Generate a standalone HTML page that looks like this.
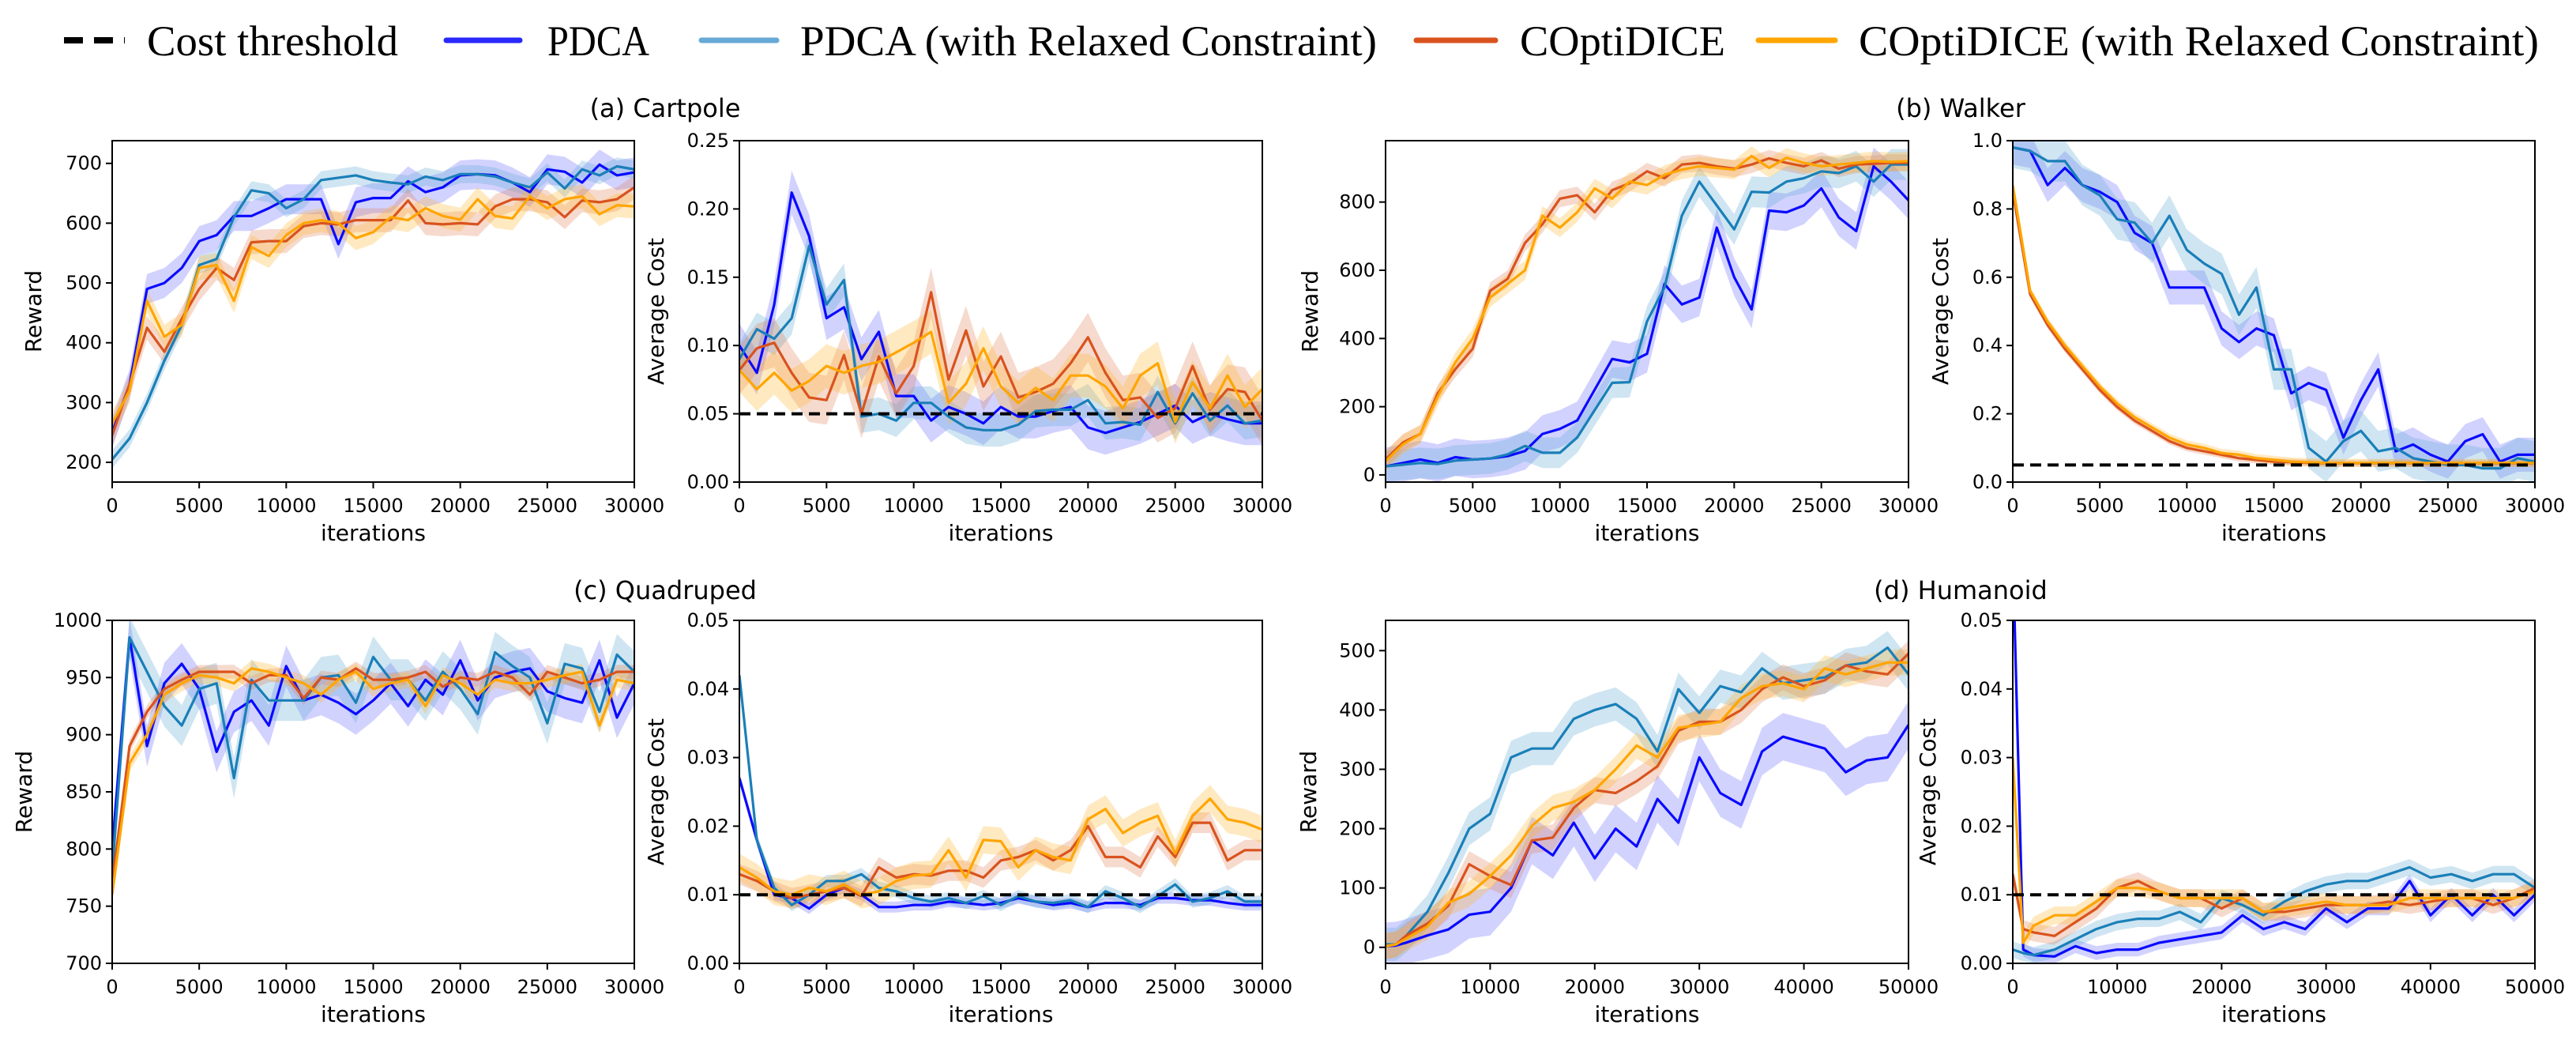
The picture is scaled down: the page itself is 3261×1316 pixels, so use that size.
<!DOCTYPE html>
<html><head><meta charset="utf-8"><style>
html,body{margin:0;padding:0;background:#fff;}
svg{display:block;}
text{font-family:"DejaVu Sans","Liberation Sans",sans-serif;fill:#000;}
.leg{font-family:"Liberation Serif",serif;font-size:54px;}
</style></head><body>
<svg id="fig" width="3261" height="1316" viewBox="0 0 3261 1316" xmlns="http://www.w3.org/2000/svg">
<g>
  <line x1="81" y1="51" x2="158" y2="51" stroke="#000" stroke-width="8" stroke-dasharray="24,14"/>
  <text class="leg" x="186" y="70" textLength="318" lengthAdjust="spacingAndGlyphs">Cost threshold</text>
  <line x1="565" y1="51" x2="658" y2="51" stroke="#2828ff" stroke-width="7" stroke-linecap="round"/>
  <text class="leg" x="693" y="70" textLength="129" lengthAdjust="spacingAndGlyphs">PDCA</text>
  <line x1="888" y1="51" x2="983" y2="51" stroke="#67a9d6" stroke-width="7" stroke-linecap="round"/>
  <text class="leg" x="1013" y="70" textLength="730" lengthAdjust="spacingAndGlyphs">PDCA (with Relaxed Constraint)</text>
  <line x1="1793" y1="51" x2="1893" y2="51" stroke="#d9531e" stroke-width="7" stroke-linecap="round"/>
  <text class="leg" x="1924" y="70" textLength="260" lengthAdjust="spacingAndGlyphs">COptiDICE</text>
  <line x1="2226" y1="51" x2="2323" y2="51" stroke="#ffa500" stroke-width="7" stroke-linecap="round"/>
  <text class="leg" x="2353" y="70" textLength="861" lengthAdjust="spacingAndGlyphs">COptiDICE (with Relaxed Constraint)</text>
</g>
</svg>
<script>
// ---------- data ----------
const x30 = [0,1000,2000,3000,4000,5000,6000,7000,8000,9000,10000,11000,12000,13000,14000,15000,16000,17000,18000,19000,20000,21000,22000,23000,24000,25000,26000,27000,28000,29000,30000];
const x50 = [0,1000,2000,4000,6000,8000,10000,12000,14000,16000,18000,20000,22000,24000,26000,28000,30000,32000,34000,36000,38000,40000,42000,44000,46000,48000,50000];
const seriesNames = ["pdca","pdca-relaxed","coptidice","coptidice-relaxed"];

const aRewardPDCA = [250,330,490,500,525,570,580,612,612,625,640,640,640,565,635,642,642,670,652,660,680,682,680,668,652,690,686,668,698,680,685];
const aRewardPDCAR = [205,240,300,370,430,530,540,610,655,650,625,640,672,676,680,672,668,665,678,672,682,682,678,668,660,685,658,690,680,695,690];
const aRewardCO = [245,330,425,385,440,490,525,505,568,570,570,595,600,598,605,605,605,638,600,598,600,598,628,640,640,635,610,638,635,640,660];
const aRewardCOR = [265,320,470,410,430,525,530,470,560,545,580,600,605,600,575,585,610,605,625,612,606,640,612,608,645,625,640,645,615,630,628];
const aRewardBand = [25,15,20,20];

const aCostPDCA = [0.100,0.080,0.130,0.212,0.180,0.120,0.128,0.090,0.110,0.063,0.063,0.045,0.055,0.050,0.043,0.055,0.048,0.048,0.052,0.055,0.040,0.036,0.040,0.044,0.050,0.056,0.044,0.050,0.046,0.043,0.043];
const aCostPDCAR = [0.090,0.112,0.105,0.120,0.173,0.130,0.148,0.048,0.050,0.045,0.058,0.058,0.048,0.040,0.038,0.038,0.042,0.052,0.053,0.053,0.060,0.043,0.044,0.042,0.066,0.043,0.065,0.045,0.056,0.043,0.045];
const aCostCO = [0.082,0.098,0.102,0.080,0.062,0.060,0.093,0.050,0.092,0.065,0.085,0.139,0.075,0.111,0.070,0.092,0.062,0.066,0.072,0.087,0.106,0.080,0.060,0.062,0.047,0.054,0.085,0.053,0.068,0.066,0.045];
const aCostCOR = [0.082,0.068,0.080,0.067,0.074,0.085,0.080,0.085,0.088,0.095,0.102,0.110,0.058,0.072,0.098,0.070,0.058,0.069,0.060,0.078,0.078,0.070,0.054,0.078,0.087,0.044,0.073,0.054,0.078,0.055,0.068];
const aCostBand = [0.016,0.012,0.018,0.016];

const bRewardPDCA = [25,35,45,35,52,45,48,55,70,120,135,160,250,340,330,355,560,500,520,725,580,485,775,770,790,840,755,715,905,860,805];
const bRewardPDCAR = [25,30,35,32,42,45,48,60,85,65,65,110,190,270,272,450,550,760,860,790,720,830,828,860,870,890,885,905,860,910,910];
const bRewardCO = [45,95,120,240,310,370,540,575,680,735,810,820,770,835,855,890,870,910,915,905,898,910,928,915,905,922,898,910,912,915,915];
const bRewardCOR = [40,90,120,230,330,400,520,560,600,760,725,770,840,810,860,850,880,895,905,900,895,935,900,930,915,905,910,915,920,918,920];
const bRewardBand = [55,45,25,28];

const bCostPDCA = [0.98,0.97,0.87,0.92,0.87,0.85,0.82,0.73,0.70,0.57,0.57,0.57,0.45,0.41,0.45,0.43,0.26,0.29,0.27,0.13,0.24,0.33,0.09,0.11,0.08,0.06,0.12,0.14,0.06,0.08,0.08];
const bCostPDCAR = [0.98,0.97,0.94,0.94,0.87,0.84,0.77,0.76,0.70,0.78,0.68,0.64,0.61,0.49,0.57,0.33,0.33,0.10,0.06,0.12,0.15,0.09,0.10,0.07,0.06,0.05,0.05,0.04,0.04,0.07,0.06];
const bCostCO = [0.85,0.55,0.46,0.39,0.33,0.27,0.22,0.18,0.15,0.12,0.10,0.09,0.08,0.07,0.065,0.06,0.058,0.056,0.055,0.055,0.055,0.055,0.055,0.055,0.055,0.055,0.055,0.055,0.055,0.055,0.055];
const bCostCOR = [0.87,0.56,0.47,0.40,0.34,0.28,0.23,0.19,0.16,0.13,0.11,0.10,0.085,0.08,0.07,0.065,0.06,0.058,0.056,0.056,0.056,0.056,0.056,0.056,0.056,0.056,0.056,0.056,0.056,0.056,0.056];
const bCostBand = [0.05,0.06,0.01,0.012];

const cRewardPDCA = [800,985,890,945,962,940,885,920,930,908,960,930,935,928,918,930,945,925,948,935,965,930,950,955,958,938,932,928,965,915,945];
const cRewardPDCAR = [780,985,955,925,908,940,945,862,948,930,930,930,950,952,928,968,948,948,930,955,940,918,972,960,950,910,962,958,920,970,955];
const cRewardCO = [770,890,920,940,948,955,955,955,945,952,952,932,950,948,958,948,948,950,955,942,950,948,955,950,935,955,950,945,948,955,955];
const cRewardCOR = [760,875,900,935,945,952,950,945,958,955,950,945,935,948,955,940,945,948,925,952,945,935,948,945,945,948,952,955,908,948,945];
const cRewardBand = [18,18,6,7];

const cCostPDCA = [0.027,0.018,0.010,0.0095,0.008,0.010,0.011,0.010,0.0082,0.0082,0.0085,0.0085,0.009,0.0088,0.0085,0.0088,0.0095,0.009,0.0085,0.0088,0.0082,0.0088,0.0088,0.0085,0.0095,0.0095,0.0092,0.0092,0.0088,0.0085,0.0085];
const cCostPDCAR = [0.042,0.018,0.011,0.0085,0.010,0.012,0.012,0.013,0.011,0.0105,0.0095,0.009,0.0095,0.0088,0.0098,0.0085,0.0098,0.009,0.0088,0.0092,0.0082,0.0105,0.0095,0.0082,0.0098,0.0115,0.009,0.0095,0.0105,0.009,0.009];
const cCostCO = [0.013,0.012,0.0105,0.0095,0.010,0.0105,0.011,0.0098,0.014,0.0125,0.013,0.0128,0.0135,0.0135,0.0125,0.015,0.0155,0.0165,0.015,0.0165,0.020,0.0155,0.0155,0.014,0.0185,0.0155,0.0205,0.0205,0.015,0.0165,0.0165];
const cCostCOR = [0.014,0.0125,0.0105,0.010,0.011,0.0105,0.0115,0.010,0.0105,0.012,0.0128,0.013,0.0165,0.0125,0.018,0.0178,0.014,0.0165,0.0155,0.015,0.021,0.0225,0.019,0.0205,0.0215,0.016,0.0215,0.024,0.021,0.0205,0.0195];
const cCostBand = [0.0008,0.0009,0.0015,0.002];

const dRewardPDCA = [2,3,8,20,30,55,60,100,180,155,210,150,200,170,250,210,320,260,240,330,355,345,335,295,315,320,375];
const dRewardPDCAR = [5,5,20,60,125,200,225,320,335,335,385,400,410,385,330,435,395,440,430,470,445,450,455,475,480,505,460];
const dRewardCO = [2,5,20,40,70,140,120,105,180,185,235,265,260,280,305,365,380,380,400,435,455,440,450,475,465,460,495];
const dRewardCOR = [2,5,15,35,75,90,120,155,205,235,245,265,300,340,320,370,375,380,420,440,445,435,470,460,470,480,480];
const dRewardBand = [40,28,22,22];

const dCostPDCA = [0.06,0.002,0.0012,0.001,0.0025,0.0015,0.002,0.002,0.003,0.0035,0.004,0.0045,0.007,0.005,0.006,0.005,0.008,0.006,0.008,0.008,0.012,0.007,0.010,0.007,0.010,0.007,0.010];
const dCostPDCAR = [0.002,0.0015,0.0012,0.002,0.0035,0.005,0.006,0.0065,0.0065,0.0075,0.006,0.0095,0.0085,0.007,0.009,0.0105,0.0115,0.012,0.012,0.013,0.014,0.0125,0.013,0.012,0.013,0.013,0.011];
const dCostCO = [0.013,0.005,0.0045,0.004,0.006,0.008,0.011,0.012,0.0105,0.0095,0.0095,0.008,0.0095,0.0075,0.0075,0.008,0.0085,0.0085,0.0085,0.009,0.0085,0.009,0.0095,0.0095,0.0085,0.0095,0.011];
const dCostCOR = [0.03,0.003,0.0055,0.007,0.007,0.009,0.011,0.011,0.0105,0.0095,0.0095,0.0095,0.0095,0.0075,0.008,0.0085,0.009,0.0085,0.0085,0.0085,0.0095,0.0095,0.0095,0.0095,0.0095,0.0095,0.0105];
const dCostBand = [0.001,0.0012,0.0013,0.0013];

const xTicks30 = [0,5000,10000,15000,20000,25000,30000];
const xTicks50 = [0,10000,20000,30000,40000,50000];
const aRewardTicks = [200,300,400,500,600,700];
const costTicks25 = [0,0.05,0.10,0.15,0.20,0.25];
const bRewardTicks = [0,200,400,600,800];
const bCostTicks = [0,0.2,0.4,0.6,0.8,1.0];
const cRewardTicks = [700,750,800,850,900,950,1000];
const smallCostTicks = [0,0.01,0.02,0.03,0.04,0.05];
const dRewardTicks = [0,100,200,300,400,500];

// ---------- drawing ----------
const NS = "http://www.w3.org/2000/svg";
const svg = document.getElementById("fig");
const lineColors = ["#0a0aff","#1a7fb8","#d9531e","#ffa500"];
const fillColors = ["#3030ff","#6baed6","#e07a50","#ffb733"];
const fillOpac = [0.22,0.32,0.28,0.3];

function mk(tag, attrs, parent){
  const e = document.createElementNS(NS, tag);
  for (const k in attrs) e.setAttribute(k, attrs[k]);
  (parent||svg).appendChild(e);
  return e;
}

function panel(o){
  const g = mk("g", {});
  
  
  const L=o.box[0], R=o.box[1], T=o.box[2], B=o.box[3];
  const sx = v => L + (v - o.xlim[0])/(o.xlim[1]-o.xlim[0])*(R-L);
  const sy = v => B - (v - o.ylim[0])/(o.ylim[1]-o.ylim[0])*(B-T);
  const clipId = "clip-" + o.name;
  const cp = mk("clipPath", {id: clipId}, g);
  mk("rect", {x:L, y:T, width:R-L, height:B-T}, cp);
  const plot = mk("g", {"clip-path": "url(#"+clipId+")"}, g);
  // bands
  o.series.forEach((ys, i) => {
    const bw = o.bands[i];
    let d = "";
    ys.forEach((v, j) => { d += (j ? "L" : "M") + sx(o.xs[j]).toFixed(1) + "," + sy(v + bw).toFixed(1); });
    for (let j = ys.length-1; j >= 0; j--) d += "L" + sx(o.xs[j]).toFixed(1) + "," + sy(Math.max(o.ylim[0]-1, ys[j] - bw)).toFixed(1);
    const p = mk("path", {d: d+"Z", fill: fillColors[i], "fill-opacity": fillOpac[i], stroke: "none"}, plot);
    
    
  });
  // lines
  o.series.forEach((ys, i) => {
    const pts = ys.map((v, j) => sx(o.xs[j]).toFixed(1) + "," + sy(v).toFixed(1)).join(" ");
    const p = mk("polyline", {points: pts, fill: "none", stroke: lineColors[i], "stroke-width": 3.2, "stroke-linejoin": "round"}, plot);
    
    
  });
  if (o.threshold !== undefined) {
    const t = mk("line", {x1: L, x2: R, y1: sy(o.threshold), y2: sy(o.threshold), stroke: "#000", "stroke-width": 4, "stroke-dasharray": "14,8"}, plot);
    
    
  }
  // frame
  const fr = mk("rect", {x: L, y: T, width: R-L, height: B-T, fill: "none", stroke: "#000", "stroke-width": 2}, g);
  
  
  // x ticks
  o.xticks.forEach(v => {
    const x = sx(v);
    mk("line", {x1: x, x2: x, y1: B, y2: B+8, stroke: "#000", "stroke-width": 2}, g);
    const t = mk("text", {x: x, y: B+38, "text-anchor": "middle", "font-size": 24}, g);
    t.textContent = String(v);
    
    
  });
  // y ticks
  o.yticks.forEach(v => {
    const y = sy(v);
    mk("line", {x1: L-8, x2: L, y1: y, y2: y, stroke: "#000", "stroke-width": 2}, g);
    const t = mk("text", {x: L-13, y: y+8, "text-anchor": "end", "font-size": 24}, g);
    t.textContent = o.fmt(v);
    
    
  });
  const xl = mk("text", {x: (L+R)/2, y: B+74, "text-anchor": "middle", "font-size": 28}, g);
  xl.textContent = "iterations";
  
  
  const yl = mk("text", {x: 0, y: 0, "text-anchor": "middle", "font-size": 28, transform: "translate(" + (o.ylabelX) + "," + ((T+B)/2) + ") rotate(-90)"}, g);
  yl.textContent = o.ylabel;
  
  
}

function title(txt, x, y, name){
  const t = mk("text", {x: x, y: y, "text-anchor": "middle", "font-size": 32});
  t.textContent = txt;
  
  
}

const f0 = v => String(v), f2 = v => v.toFixed(2), f1 = v => v.toFixed(1);
const TOP = [178, 610], BOT = [785, 1219];
const C1 = [142, 803], C2 = [936, 1598], C3 = [1754, 2416], C4 = [2548, 3209];

title("(a) Cartpole", 842, 148, "title-cartpole");
title("(b) Walker", 2482, 148, "title-walker");
title("(c) Quadruped", 842, 758, "title-quadruped");
title("(d) Humanoid", 2482, 758, "title-humanoid");

panel({name:"cartpole-reward", box:[C1[0],C1[1],TOP[0],TOP[1]], xlim:[0,30000], ylim:[167,738], xs:x30,
  series:[aRewardPDCA,aRewardPDCAR,aRewardCO,aRewardCOR], bands:aRewardBand, xticks:xTicks30, yticks:aRewardTicks, fmt:f0, ylabel:"Reward", ylabelX:52});
panel({name:"cartpole-cost", box:[C2[0],C2[1],TOP[0],TOP[1]], xlim:[0,30000], ylim:[0,0.25], xs:x30,
  series:[aCostPDCA,aCostPDCAR,aCostCO,aCostCOR], bands:aCostBand, xticks:xTicks30, yticks:costTicks25, fmt:f2, ylabel:"Average Cost", ylabelX:840, threshold:0.05});
panel({name:"walker-reward", box:[C3[0],C3[1],TOP[0],TOP[1]], xlim:[0,30000], ylim:[-21,980], xs:x30,
  series:[bRewardPDCA,bRewardPDCAR,bRewardCO,bRewardCOR], bands:bRewardBand, xticks:xTicks30, yticks:bRewardTicks, fmt:f0, ylabel:"Reward", ylabelX:1668});
panel({name:"walker-cost", box:[C4[0],C4[1],TOP[0],TOP[1]], xlim:[0,30000], ylim:[0,1.0], xs:x30,
  series:[bCostPDCA,bCostPDCAR,bCostCO,bCostCOR], bands:bCostBand, xticks:xTicks30, yticks:bCostTicks, fmt:f1, ylabel:"Average Cost", ylabelX:2466, threshold:0.05});
panel({name:"quadruped-reward", box:[C1[0],C1[1],BOT[0],BOT[1]], xlim:[0,30000], ylim:[700,1000], xs:x30,
  series:[cRewardPDCA,cRewardPDCAR,cRewardCO,cRewardCOR], bands:cRewardBand, xticks:xTicks30, yticks:cRewardTicks, fmt:f0, ylabel:"Reward", ylabelX:40});
panel({name:"quadruped-cost", box:[C2[0],C2[1],BOT[0],BOT[1]], xlim:[0,30000], ylim:[0,0.05], xs:x30,
  series:[cCostPDCA,cCostPDCAR,cCostCO,cCostCOR], bands:cCostBand, xticks:xTicks30, yticks:smallCostTicks, fmt:f2, ylabel:"Average Cost", ylabelX:840, threshold:0.01});
panel({name:"humanoid-reward", box:[C3[0],C3[1],BOT[0],BOT[1]], xlim:[0,50000], ylim:[-27,551], xs:x50,
  series:[dRewardPDCA,dRewardPDCAR,dRewardCO,dRewardCOR], bands:dRewardBand, xticks:xTicks50, yticks:dRewardTicks, fmt:f0, ylabel:"Reward", ylabelX:1666});
panel({name:"humanoid-cost", box:[C4[0],C4[1],BOT[0],BOT[1]], xlim:[0,50000], ylim:[0,0.05], xs:x50,
  series:[dCostPDCA,dCostPDCAR,dCostCO,dCostCOR], bands:dCostBand, xticks:xTicks50, yticks:smallCostTicks, fmt:f2, ylabel:"Average Cost", ylabelX:2450, threshold:0.01});
</script>
</body></html>
